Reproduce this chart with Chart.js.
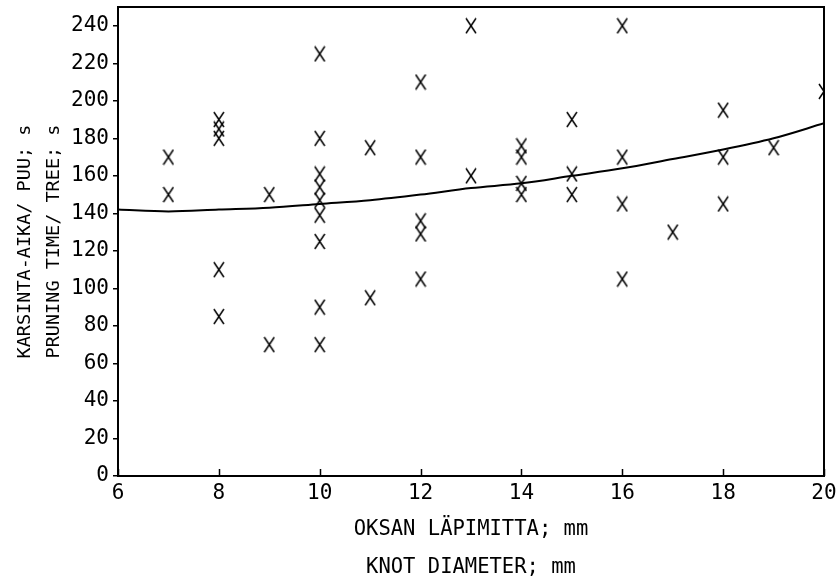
<!DOCTYPE html>
<html>
<head>
<meta charset="utf-8">
<script src="https://cdn.jsdelivr.net/npm/chart.js@4/dist/chart.umd.min.js"></script>
<style>
  html, body { margin: 0; padding: 0; background: #fff; }
  #wrap { width: 840px; height: 580px; }
</style>
</head>
<body>
<div id="wrap"><canvas id="chart" width="840" height="580"></canvas></div>
<script>
// measured points (knot diameter mm, pruning time s)
const knotDiameter = [7, 7,
  8, 8, 8, 8, 8,
  9, 9,
  10, 10, 10, 10, 10, 10, 10, 10, 10,
  11, 11,
  12, 12, 12, 12, 12,
  13, 13,
  14, 14, 14, 14,
  15, 15, 15,
  16, 16, 16, 16,
  17,
  18, 18, 18,
  19,
  20];
const pruningTime = [170, 150,
  190, 185, 180, 110, 85,
  150, 70,
  225, 180, 161, 154, 147, 139, 125, 90, 70,
  175, 95,
  210, 170, 136, 129, 105,
  240, 160,
  176, 170, 156, 150,
  190, 161, 150,
  240, 170, 145, 105,
  130,
  195, 170, 145,
  175,
  205];

// fitted curve
const curveX = [6, 7, 8, 9, 10, 11, 12, 13, 14, 15, 16, 17, 18, 19, 20];
const curveY = [142, 141, 142, 143, 145, 147, 150, 153.5, 156, 160, 164, 169, 174, 180, 188];

const xTicks = [6, 8, 10, 12, 14, 16, 18, 20];
const yTicks = [0, 20, 40, 60, 80, 100, 120, 140, 160, 180, 200, 220, 240];

const xTitle = ['OKSAN LÄPIMITTA; mm', 'KNOT DIAMETER; mm'];
const yTitle = ['KARSINTA-AIKA/ PUU; s', 'PRUNING TIME/ TREE; s'];

const FONT = '"DejaVu Sans Mono", "Liberation Mono", monospace';

// plotter style "X" marker
function makeCross() {
  const c = document.createElement('canvas');
  c.width = 12;
  c.height = 17;
  const g = c.getContext('2d');
  g.strokeStyle = '#000';
  g.lineWidth = 1.5;
  g.beginPath();
  g.moveTo(1, 1); g.lineTo(11, 16);
  g.moveTo(11, 1); g.lineTo(1, 16);
  g.stroke();
  return c;
}

// frame round the plot and inward ticks on the x axis
const framePlugin = {
  id: 'frame',
  afterDraw(chart) {
    const { ctx, chartArea: a } = chart;
    const xs = chart.scales.x;
    ctx.save();
    ctx.strokeStyle = '#000';
    ctx.lineWidth = 2;
    ctx.strokeRect(a.left, a.top, a.right - a.left, a.bottom - a.top);
    ctx.lineWidth = 1.5;
    ctx.beginPath();
    xTicks.forEach(v => {
      const px = Math.round(xs.getPixelForValue(v)) + 0.5;
      ctx.moveTo(px, a.bottom);
      ctx.lineTo(px, a.bottom - 7);
    });
    ctx.stroke();
    ctx.restore();
  }
};

const points = knotDiameter.map((x, i) => ({ x: x, y: pruningTime[i] }));
const curve = curveX.map((x, i) => ({ x: x, y: curveY[i] }));

new Chart(document.getElementById('chart'), {
  type: 'scatter',
  data: {
    datasets: [
      {
        label: 'observations',
        data: points,
        pointStyle: makeCross(),
        pointRadius: 6,
        pointHoverRadius: 6,
        clip: 0
      },
      {
        type: 'line',
        label: 'fit',
        data: curve,
        borderColor: '#000',
        borderWidth: 2,
        pointRadius: 0,
        cubicInterpolationMode: 'monotone',
        fill: false
      }
    ]
  },
  options: {
    responsive: false,
    animation: false,
    devicePixelRatio: 1,
    layout: { padding: { top: 7, right: 16, bottom: 0, left: 0 } },
    plugins: {
      legend: { display: false },
      tooltip: { enabled: false }
    },
    scales: {
      x: {
        type: 'linear',
        min: 6,
        max: 20,
        afterBuildTicks: axis => { axis.ticks = xTicks.map(v => ({ value: v })); },
        afterFit: scale => {
          scale.height = 104;
          scale.paddingLeft = 0;
          scale.paddingRight = 0;
        },
        grid: { display: false, drawTicks: false },
        border: { display: false },
        ticks: {
          color: '#000',
          padding: 5,
          maxRotation: 0,
          font: { family: FONT, size: 21 }
        },
        title: {
          display: true,
          text: xTitle,
          color: '#000',
          padding: { top: 0, bottom: -6.5 },
          font: { family: FONT, size: 20.5, lineHeight: '38px' }
        }
      },
      y: {
        type: 'linear',
        min: 0,
        max: 250,
        afterBuildTicks: axis => { axis.ticks = yTicks.map(v => ({ value: v })); },
        afterFit: scale => {
          scale.width = 118;
          scale.paddingTop = 0;
          scale.paddingBottom = 0;
        },
        grid: {
          drawOnChartArea: false,
          drawTicks: true,
          tickLength: 5,
          color: '#000',
          lineWidth: 1.5
        },
        border: { display: false },
        ticks: {
          color: '#000',
          padding: 4,
          font: { family: FONT, size: 21 }
        },
        title: {
          display: true,
          text: yTitle,
          color: '#000',
          padding: { top: 11, bottom: 0 },
          font: { family: FONT, size: 18.5, lineHeight: '29px' }
        }
      }
    }
  },
  plugins: [framePlugin]
});
</script>
</body>
</html>
